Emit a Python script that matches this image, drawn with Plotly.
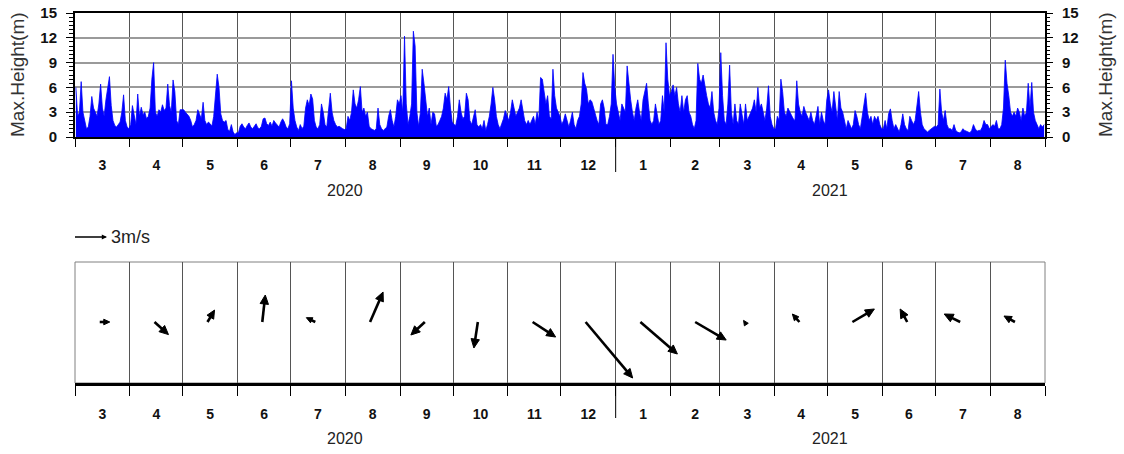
import math
import pandas as pd
import plotly.graph_objects as go

# ---------------- data: daily maximum height (m) ----------------
mar20 = [6.0,2.5,3.0,6.7,3.0,2.0,1.0,1.2,2.5,4.9,3.5,3.0,2.5,4.0,6.4,3.5,2.5,4.5,6.0,7.3,3.8,2.0,1.4,1.2,1.5,1.8,3.0,5.1,2.0,1.2,1.0]
apr20 = [1.5,3.8,2.8,1.5,5.2,2.5,3.6,2.7,3.0,2.2,2.5,3.5,7.0,9.0,3.0,2.5,3.3,3.0,3.9,3.2,3.5,6.4,3.8,3.0,6.9,5.5,2.0,1.5,3.3,3.3]
may20 = [3.3,3.0,2.8,2.5,2.0,1.2,1.5,2.0,3.3,2.8,2.2,4.2,2.0,1.5,1.8,1.6,1.3,2.5,5.5,7.6,6.0,2.8,2.0,1.8,2.0,0.9,0.7,1.5,0.6,0.3,0.5]
jun20 = [0.5,1.3,1.6,1.2,1.0,1.4,1.7,1.2,1.0,1.3,1.6,1.1,1.0,1.3,2.2,2.3,1.6,1.4,1.8,1.3,2.0,1.7,1.4,1.2,1.8,2.2,1.8,1.2,1.0,1.6]
jul20 = [6.8,3.5,2.0,1.2,0.8,1.5,1.0,1.3,3.5,4.5,3.8,5.2,4.6,2.0,1.2,1.0,1.5,4.0,3.0,1.5,1.2,3.0,5.3,3.0,2.0,1.5,1.2,1.3,1.1,1.0,0.9]
aug20 = [1.0,2.5,2.0,3.0,5.7,4.0,3.5,4.5,6.1,3.0,3.5,2.5,3.0,1.3,1.0,0.9,0.8,1.0,3.5,1.5,1.0,0.8,1.0,1.2,2.5,3.3,2.0,1.2,2.5,4.5,4.0]
sep20 = [5.0,3.0,12.2,4.0,1.5,2.5,4.0,12.8,11.0,3.0,1.3,3.0,8.2,6.5,4.5,2.5,3.5,1.5,3.0,2.8,1.3,1.5,2.0,2.5,3.5,5.3,4.5,6.1,3.5,1.8]
oct20 = [1.5,1.4,2.5,4.5,3.0,2.2,2.5,5.3,4.5,2.0,1.5,2.5,3.3,1.5,1.2,1.5,1.0,2.0,0.8,1.5,2.5,4.0,6.0,4.5,2.5,1.5,1.0,1.6,2.2,3.2,2.5]
nov20 = [2.0,3.0,4.5,3.5,2.5,3.0,3.5,4.5,3.0,2.0,1.5,2.0,1.5,2.0,2.5,1.5,3.0,2.0,7.2,7.0,5.5,4.0,5.0,2.5,2.2,8.2,5.0,3.5,3.0,2.5]
dec20 = [1.5,2.0,2.8,2.0,1.2,2.0,3.0,1.5,1.0,2.0,2.5,4.0,7.8,6.5,5.8,4.0,4.5,4.3,3.5,2.5,2.0,1.5,4.0,4.5,3.5,1.5,1.5,2.5,4.0,10.0,6.0]
jan21 = [4.0,3.0,2.0,4.0,3.5,3.0,8.6,6.0,4.5,3.0,2.0,3.5,4.5,3.0,2.0,4.5,5.5,6.5,4.0,2.0,1.5,2.0,4.0,2.5,1.5,2.0,5.0,3.0,11.4,7.0,5.0]
feb21 = [5.5,6.3,5.0,6.0,4.0,3.0,5.0,3.0,4.5,5.0,3.0,2.5,1.5,1.0,2.0,8.9,7.0,6.5,7.5,6.0,5.0,4.0,3.5,5.5,3.0,2.0,1.5,3.5]
mar21 = [10.2,5.0,2.0,1.5,4.0,8.7,3.0,1.5,4.0,2.0,1.5,4.0,2.5,1.5,4.0,2.0,2.5,3.0,3.5,4.5,3.0,6.0,3.5,4.0,3.0,2.0,3.5,6.2,2.5,1.5,1.0]
apr21 = [1.0,2.5,2.0,7.0,5.5,3.0,2.5,3.5,3.0,2.5,2.2,2.0,6.8,4.0,3.0,2.5,3.7,3.0,2.5,2.0,3.0,2.0,1.5,2.5,3.7,1.5,3.0,2.0,1.5,4.5]
may21 = [5.7,4.0,3.0,5.5,4.0,2.0,5.5,3.5,3.0,2.0,1.0,2.0,1.5,1.0,1.5,3.2,2.5,1.5,1.0,2.5,4.0,5.3,3.0,2.0,2.5,1.5,2.5,2.0,2.5,1.5,1.0]
jun21 = [1.0,2.0,1.0,2.8,3.4,2.0,1.0,1.5,1.0,0.6,1.5,2.8,1.5,1.0,0.8,2.5,2.0,1.5,2.0,3.5,5.5,3.0,1.5,1.0,0.8,0.6,0.8,1.0,1.1,1.3]
jul21 = [1.2,1.5,5.8,3.0,2.0,3.2,1.5,1.0,1.0,0.8,1.5,0.8,0.6,0.5,0.6,1.0,0.8,0.7,0.6,0.5,0.8,1.5,1.0,0.7,0.8,0.8,1.2,2.0,1.5,1.5,1.0]
aug21 = [1.2,1.5,1.3,2.0,1.0,1.0,1.5,3.5,9.3,6.5,5.0,3.0,2.5,3.0,2.5,3.5,3.0,2.0,3.5,2.5,3.0,6.5,3.5,6.6,3.0,2.0,1.5,1.0,1.5,1.2,1.5]

month_labels = ["2020-03","2020-04","2020-05","2020-06","2020-07","2020-08","2020-09","2020-10",
                "2020-11","2020-12","2021-01","2021-02","2021-03","2021-04","2021-05","2021-06",
                "2021-07","2021-08"]

# ---------------- data: monthly mean vectors (m/s) ----------------
vec_u = [0.94, 1.31, 0.66, 0.28, -0.84, 1.22, -1.31, -0.37, 2.16, 4.41, 3.47, 2.91, -0.10, -0.66, 2.06, -0.66, -1.50, -1.03]
vec_v = [0.00, -1.18, 1.12, 2.53, 0.41, 2.81, -1.22, -2.44, -1.41, -5.25, -3.00, -1.69, 0.15, 0.75, 1.22, 1.22, 0.75, 0.56]
ref_speed = 3.0  # m/s reference arrow

hmax_months = [mar20, apr20, may20, jun20, jul20, aug20, sep20, oct20, nov20, dec20,
               jan21, feb21, mar21, apr21, may21, jun21, jul21, aug21]

dates, vals = [], []
for m, lst in zip(month_labels, hmax_months):
    d0 = pd.Timestamp(m + "-01")
    for i, v in enumerate(lst):
        dates.append(d0 + pd.Timedelta(days=i, hours=12))
        vals.append(v)

# ---------------- geometry (screen px; page body margin removed by post_script) ----------------
W, H = 1124, 454
ML, MR, MT, MB = 75, 79, 13, 71
plot_w = W - ML - MR
plot_h = H - MT - MB
bottom_px = H - MB          # screen y of plot-area bottom (383)

def py(px):
    return (bottom_px - px) / plot_h

def pxx(px):
    return (px - ML) / plot_w

top_y0_px, top_y1_px = 137, 13
low_y0_px, low_y1_px = 383, 262

x_start = pd.Timestamp("2020-03-01")
x_end = pd.Timestamp("2021-09-01")
n_days = (x_end - x_start).days
px_per_day = plot_w / n_days
px_per_ms = 32 / ref_speed
low_h_px = low_y0_px - low_y1_px      # lower panel y axis: 1 unit = 1 px
tail_y = low_y0_px - 322
HEAD_LEN, HEAD_HW = 9.0, 4.2

FONT = "Liberation Sans, Arial, sans-serif"
tickfont = dict(family=FONT, size=14, color="#111", weight="bold")

def fmt(ts):
    return ts.strftime("%Y-%m-%d %H:%M:%S")

fig = go.Figure()
fig.add_trace(go.Scatter(x=dates, y=vals, mode="lines", fill="tozeroy",
                         line=dict(color="#0000ff", width=0.8), fillcolor="#0000ff",
                         showlegend=False, hoverinfo="skip"))
fig.add_trace(go.Scatter(x=[dates[0]], y=[0], yaxis="y3", mode="markers",
                         marker=dict(opacity=0), showlegend=False, hoverinfo="skip"))

# monthly vectors: tail at mid-month; pixel offsets mapped back through the axis scales
sx, sy, hx, hy = [], [], [], []
def to_x(tail, dpx):
    return fmt(tail + pd.Timedelta(days=dpx / px_per_day))
for m, u, v in zip(month_labels, vec_u, vec_v):
    tail = pd.Timestamp(m + "-15")
    dx, dy = u * px_per_ms, v * px_per_ms
    L = math.hypot(dx, dy)
    ex, ey = dx / L, dy / L
    nx, ny = -ey, ex
    hl = min(HEAD_LEN, max(0.6 * L, 5.0))
    hw = HEAD_HW * hl / HEAD_LEN
    bx, by = dx - ex * hl, dy - ey * hl
    if L > hl:
        sx += [to_x(tail, 0), to_x(tail, bx + ex * 1.0), None]
        sy += [tail_y, tail_y + by + ey * 1.0, None]
    hx += [to_x(tail, dx), to_x(tail, bx + nx * hw), to_x(tail, bx - nx * hw), to_x(tail, dx), None]
    hy += [tail_y + dy, tail_y + by + ny * hw, tail_y + by - ny * hw, tail_y + dy, None]

fig.add_trace(go.Scatter(x=sx, y=sy, xaxis="x2", yaxis="y2", mode="lines",
                         line=dict(color="black", width=2.6), connectgaps=False,
                         showlegend=False, hoverinfo="skip"))
fig.add_trace(go.Scatter(x=hx, y=hy, xaxis="x2", yaxis="y2", mode="lines", fill="toself",
                         fillcolor="black", line=dict(color="black", width=1),
                         connectgaps=False, showlegend=False, hoverinfo="skip"))

xcommon = dict(type="date", range=[x_start, x_end], dtick="M1", tick0="2020-03-01",
               ticklabelmode="period", tickformat="%-m", ticks="outside",
               tickcolor="black", tickfont=tickfont, showgrid=True, gridcolor="#555",
               gridwidth=1, zeroline=False, automargin=False)
ycommon = dict(range=[0, 15], dtick=3, ticks="outside", ticklen=7, tickwidth=1.2,
               tickcolor="black", ticklabeloverflow="allow", ticklabelstandoff=6,
               automargin=False,
               tickfont=dict(family=FONT, size=15, color="#111", weight="bold"),
               minor=dict(dtick=0.5, ticks="outside", ticklen=4, tickcolor="black", showgrid=False),
               zeroline=False)

fig.update_layout(
    width=W, height=H, margin=dict(l=ML, r=MR, t=MT, b=MB),
    paper_bgcolor="white", plot_bgcolor="white",
    xaxis=dict(domain=[0, 1], anchor="y", ticklen=8, tickwidth=1.2,
               showline=True, linecolor="black", linewidth=2, mirror=True,
               ticklabelstandoff=6, **xcommon),
    yaxis=dict(domain=[py(top_y0_px), py(top_y1_px)], anchor="x", showgrid=True,
               gridcolor="#9a9a9a", gridwidth=1.5, showline=True, linecolor="black",
               linewidth=2, mirror=True, **ycommon),
    yaxis3=dict(overlaying="y", side="right", anchor="x", showgrid=False, showline=False,
                **ycommon),
    xaxis2=dict(domain=[0, 1], anchor="y2", ticklen=10, tickwidth=1,
                showline=True, linecolor="black", linewidth=3, mirror=False,
                ticklabelstandoff=6, **xcommon),
    yaxis2=dict(domain=[0, py(low_y1_px)], anchor="x2", range=[0, low_h_px],
                visible=False, fixedrange=True),
)

shapes = [
    dict(type="rect", xref="x2 domain", yref="y2 domain", x0=0, x1=1, y0=0, y1=1,
         line=dict(color="#808080", width=1), layer="below"),
    dict(type="line", xref="x", yref="paper", x0="2021-01-01", x1="2021-01-01",
         y0=py(top_y0_px), y1=py(172), line=dict(color="black", width=1)),
    dict(type="line", xref="x2", yref="paper", x0="2021-01-01", x1="2021-01-01",
         y0=py(low_y0_px), y1=py(418), line=dict(color="black", width=1)),
]

annotations = []
# year labels
for y0, y1, label in [("2020-03-01", "2021-01-01", "2020"), ("2021-01-01", "2021-09-01", "2021")]:
    mid = pd.Timestamp(y0) + (pd.Timestamp(y1) - pd.Timestamp(y0)) / 2
    for xr, ypx in [("x", 190), ("x2", 438)]:
        annotations.append(dict(x=fmt(mid), y=py(ypx), xref=xr, yref="paper", text=label,
                                xanchor="center", yanchor="middle", showarrow=False,
                                font=dict(family=FONT, size=16, color="#222")))
# axis titles
for xs in [18, 1106]:
    annotations.append(dict(x=pxx(xs), y=py(75), xref="paper", yref="paper", text="Max.Height(m)",
                            textangle=-90, showarrow=False, xanchor="center", yanchor="middle",
                            font=dict(family=FONT, size=19, color="#333")))
# reference arrow
ref_len = ref_speed * px_per_ms
annotations.append(dict(x=fmt(x_start + pd.Timedelta(days=ref_len / px_per_day)), y=py(237),
                        xref="x2", yref="paper", ax=-ref_len, ay=0, showarrow=True,
                        arrowhead=2, arrowsize=0.8, arrowwidth=1.3, arrowcolor="black",
                        text="", font=dict(size=1), borderpad=0, borderwidth=0, standoff=0))
annotations.append(dict(x=pxx(109), y=py(237), xref="paper", yref="paper",
                        text="3m/s", xanchor="left", yanchor="middle", showarrow=False,
                        font=dict(family=FONT, size=18, color="#222")))

fig.update_layout(shapes=shapes, annotations=annotations)
fig.write_html("out.html", config={"displayModeBar": False},
               post_script="document.body.style.margin='0';document.body.style.overflow='hidden';")
